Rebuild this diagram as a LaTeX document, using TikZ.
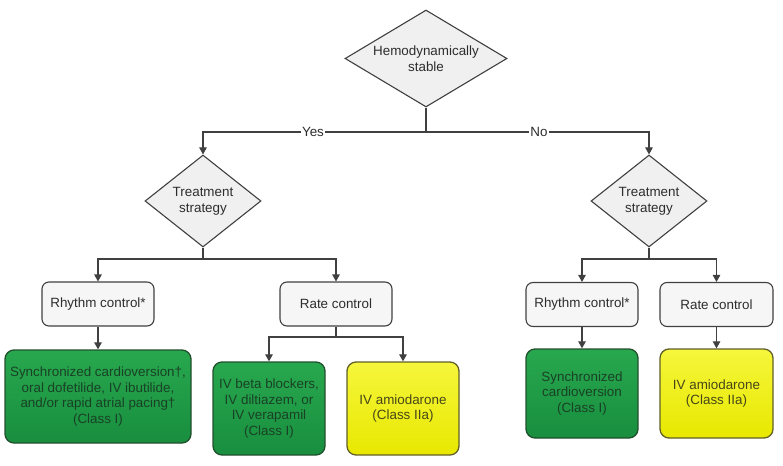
\documentclass[tikz,border=0pt]{standalone}
\usepackage{fontspec}
\setmainfont{Liberation Sans}
\usetikzlibrary{shapes.geometric,arrows.meta}
\definecolor{linec}{RGB}{64,64,64}
\definecolor{txtc}{RGB}{45,45,45}
\definecolor{diafill}{RGB}{240,240,240}
\definecolor{boxfill}{RGB}{246,246,246}
\definecolor{greentop}{RGB}{40,168,78}
\definecolor{greenbot}{RGB}{24,142,62}
\definecolor{greenedge}{RGB}{34,80,46}
\definecolor{greentxt}{RGB}{25,65,38}
\definecolor{yellowtop}{RGB}{246,246,60}
\definecolor{yellowbot}{RGB}{232,232,0}
\definecolor{yellowedge}{RGB}{96,96,40}
\definecolor{yellowtxt}{RGB}{70,70,25}
\newcommand\myfs{\fontsize{13.4}{15.6}\selectfont}
\begin{document}
\begin{tikzpicture}[x=1pt,y=-1pt,
  decision/.style={diamond, draw=linec, fill=diafill, line width=1.1pt, inner sep=0pt, text=txtc, align=center, font=\myfs},
  optbox/.style={rectangle, rounded corners=7pt, draw=linec, fill=boxfill, line width=1.1pt, minimum width=112pt, minimum height=44pt, text=txtc, align=center, font=\myfs, inner sep=0pt},
  greenbox/.style={rectangle, rounded corners=9pt, draw=greenedge, top color=greentop, bottom color=greenbot, line width=1.3pt, text=greentxt, align=center, font=\myfs, inner sep=0pt},
  yellowbox/.style={rectangle, rounded corners=9pt, draw=yellowedge, top color=yellowtop, bottom color=yellowbot, line width=1.3pt, text=yellowtxt, align=center, font=\myfs, inner sep=0pt},
  conn/.style={draw=linec, line width=1.1pt},
  arr/.style={conn, -{Triangle[length=7pt,width=7.5pt]}},
  lbl/.style={fill=white, inner sep=1pt, text=txtc, font=\myfs}
]
\useasboundingbox (0,0) rectangle (783,465);

% decisions
\node[decision, aspect=1.65, minimum width=162pt, minimum height=97pt] (top) at (426,58.5) {Hemodynamically\\stable};
\node[decision, aspect=1.26, minimum width=116pt, minimum height=92pt] (ls) at (203,201) {Treatment\\strategy};
\node[decision, aspect=1.26, minimum width=116pt, minimum height=92pt] (rs) at (649,201) {Treatment\\strategy};

% option boxes
\node[optbox] (rhL) at (98,304) {Rhythm control*};
\node[optbox] (raL) at (336,304) {Rate control};
\node[optbox] (rhR) at (582,304.5) {Rhythm control*};
\node[optbox, minimum width=113pt] (raR) at (716.5,304.5) {Rate control};

% treatments
\node[greenbox, minimum width=186pt, minimum height=93pt] (g1) at (98,396.5) {Synchronized cardioversion†,\\oral dofetilide, IV ibutilide,\\and/or rapid atrial pacing†\\(Class I)};
\node[greenbox, minimum width=112pt, minimum height=93pt] (g2) at (269,408.5) {IV beta blockers,\\IV diltiazem, or\\IV verapamil\\(Class I)};
\node[yellowbox, minimum width=112pt, minimum height=93pt] (y1) at (403,408.5) {IV amiodarone\\(Class IIa)};
\node[greenbox, minimum width=112pt, minimum height=89pt] (g3) at (582,393.5) {Synchronized\\cardioversion\\(Class I)};
\node[yellowbox, minimum width=113pt, minimum height=89pt] (y2) at (716.5,393.5) {IV amiodarone\\(Class IIa)};

% connectors
\coordinate (j0) at (426,132);
\draw[conn] (top.south) -- (j0);
\draw[arr] (j0) -| (ls.north);
\draw[arr] (j0) -| (rs.north);
\node[lbl] (yes) at (313,132) {Yes};
\node[lbl] (no) at (539,132) {No};

\coordinate (j1) at (203,259);
\draw[conn] (ls.south) -- (j1);
\draw[arr] (j1) -| (rhL.north);
\draw[arr] (j1) -| (raL.north);

\coordinate (j2) at (649,259);
\draw[conn] (rs.south) -- (j2);
\draw[arr] (j2) -| (rhR.north);
\draw[arr] (j2) -| (raR.north);

\draw[arr] (rhL.south) -- (g1.north);
\coordinate (j3) at (336,337);
\draw[conn] (raL.south) -- (j3);
\draw[arr] (j3) -| (g2.north);
\draw[arr] (j3) -| (y1.north);

\draw[arr] (rhR.south) -- (g3.north);
\draw[arr] (raR.south) -- (y2.north);
\end{tikzpicture}
\end{document}
